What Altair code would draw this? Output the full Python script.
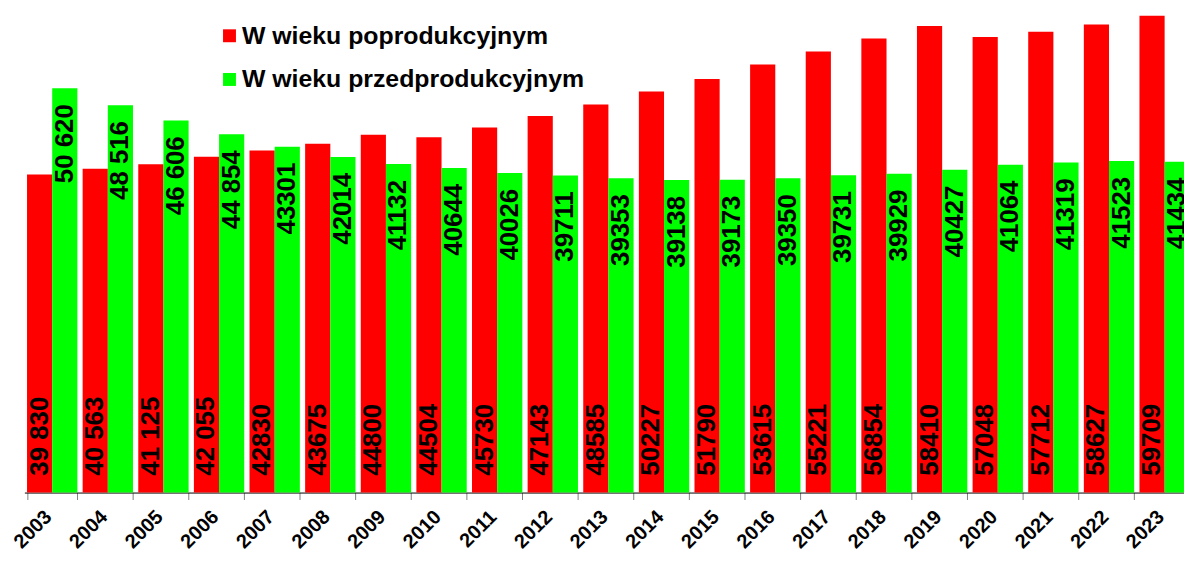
import altair as alt
import pandas as pd

years = [str(y) for y in range(2003, 2024)]
S_POST = "W wieku poprodukcyjnym"
S_PRE = "W wieku przedprodukcyjnym"

post = [39830, 40563, 41125, 42055, 42830, 43675, 44800, 44504, 45730, 47143, 48585,
        50227, 51790, 53615, 55221, 56854, 58410, 57048, 57712, 58627, 59709]
pre = [50620, 48516, 46606, 44854, 43301, 42014, 41132, 40644, 40026, 39711, 39353,
       39138, 39173, 39350, 39731, 39929, 40427, 41064, 41319, 41523, 41434]

post_labels = ["39 830", "40 563", "41 125", "42 055", "42830", "43675", "44800", "44504",
               "45730", "47143", "48585", "50227", "51790", "53615", "55221", "56854",
               "58410", "57048", "57712", "58627", "59709"]
pre_labels = ["50 620", "48 516", "46 606", "44 854", "43301", "42014", "41132", "40644",
              "40026", "39711", "39353", "39138", "39173", "39350", "39731", "39929",
              "40427", "41064", "41319", "41523", "41434"]

rows = []
for i, y in enumerate(years):
    rows.append({"year": y, "series": S_POST, "value": post[i], "label": post_labels[i]})
    rows.append({"year": y, "series": S_PRE, "value": pre[i], "label": pre_labels[i]})
df = pd.DataFrame(rows)

FONT = "Liberation Sans"

x_enc = alt.X(
    "year:N",
    sort=years,
    title=None,
    scale=alt.Scale(range=[0, 1176], paddingInner=0.095, paddingOuter=0.0475),
    axis=alt.Axis(
        labelAngle=-45,
        labelAlign="right",
        labelBaseline="middle",
        labelFont=FONT,
        labelFontSize=20,
        labelFontWeight="bold",
        labelColor="black",
        labelPadding=14,
        labelOffset=-4,
        domainColor="black",
        domainWidth=1,
        tickColor="#808080",
        tickSize=7,
        tickBand="extent",
        grid=False,
    ),
)
xoff = alt.XOffset("series:N", scale=alt.Scale(domain=[S_POST, S_PRE]))

base = alt.Chart(df)

bars = base.mark_bar().encode(
    x=x_enc,
    xOffset=xoff,
    y=alt.Y("value:Q", scale=alt.Scale(domain=[0, 60000], nice=False, zero=True), axis=None),
    color=alt.Color(
        "series:N",
        scale=alt.Scale(domain=[S_POST, S_PRE], range=["#FF0000", "#00FF00"]),
        legend=alt.Legend(
            title=None,
            orient="none",
            legendX=194,
            legendY=10,
            symbolType="square",
            symbolSize=169,
            symbolStrokeWidth=0,
            labelFont=FONT,
            labelFontSize=25,
            labelFontWeight="bold",
            labelColor="black",
            labelOffset=0,
            rowPadding=18,
            padding=0,
            labelLimit=600,
        ),
    ),
)

post_text = base.transform_filter(alt.datum.series == S_POST).mark_text(
    angle=270, align="left", baseline="middle", dx=17,
    font=FONT, fontSize=26, fontWeight="bold", color="black",
).encode(
    x=alt.X("year:N", sort=years),
    xOffset=xoff,
    y=alt.datum(0),
    text="label:N",
)

pre_text = base.transform_filter(alt.datum.series == S_PRE).mark_text(
    angle=270, align="right", baseline="middle", dx=-16,
    font=FONT, fontSize=26, fontWeight="bold", color="black",
).encode(
    x=alt.X("year:N", sort=years),
    xOffset=xoff,
    y=alt.Y("value:Q"),
    text="label:N",
)

chart = alt.layer(bars, post_text, pre_text).properties(
    width=1167.5,
    height=482.4,
    padding={"left": 16.5, "top": 3.6, "right": 0, "bottom": 61},
    autosize=alt.AutoSizeParams(type="none"),
    background="white",
).configure_view(stroke=None)

chart.save("out.html", embed_options={"renderer": "svg", "actions": False})
